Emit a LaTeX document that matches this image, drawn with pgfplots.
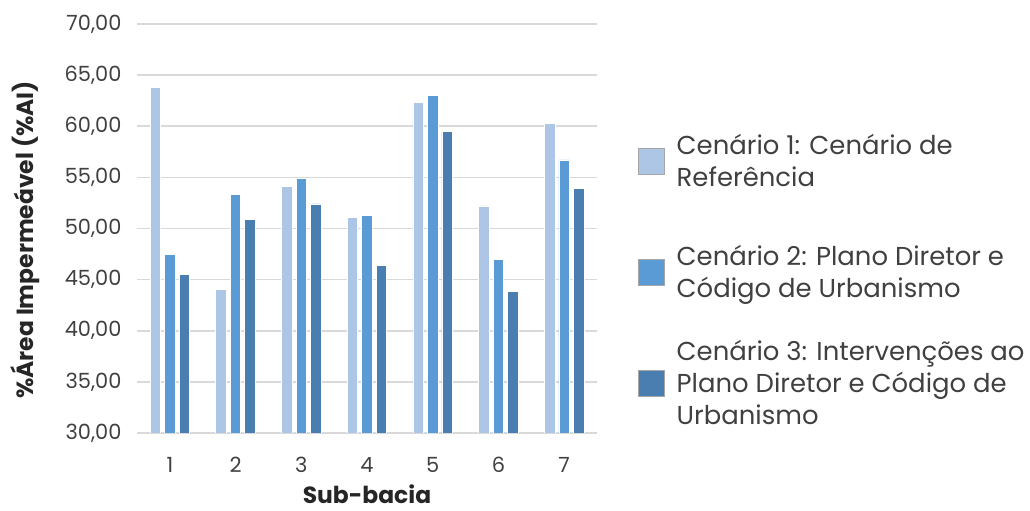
\documentclass[border=0pt]{standalone}
\usepackage{fontspec}
\setmainfont{Poppins}
\usepackage{pgfplots}
\pgfplotsset{compat=1.18}

\definecolor{cenA}{HTML}{ADC6E6}
\definecolor{cenB}{HTML}{5B9BD5}
\definecolor{cenC}{HTML}{4A7EB0}
\definecolor{gridgray}{HTML}{D9D9D9}
\definecolor{txtgray}{HTML}{404040}

\begin{document}
\begin{tikzpicture}[x=1bp,y=1bp]
\useasboundingbox (0,0) rectangle (1030,511);
\begin{axis}[
  at={(137bp,78bp)}, anchor=south west,
  scale only axis, width=460bp, height=409bp,
  ymin=30, ymax=70, ytick={30,35,...,70},
  xmin=0.5, xmax=7.5, xtick={1,...,7},
  ybar=4bp, bar width=10.5bp,
  axis line style={draw=none},
  major tick length=0pt,
  ymajorgrids, grid style={color=gridgray, line width=1.6bp},
  tick label style={font=\fontsize{21}{25}\selectfont, text=txtgray,
    /pgf/number format/assume math mode=true},
  yticklabel style={xshift=-12bp,
    /pgf/number format/fixed, /pgf/number format/fixed zerofill,
    /pgf/number format/precision=2, /pgf/number format/use comma},
  xticklabel style={yshift=-21bp},
  ylabel={\%Área Impermeável (\%AI)},
  ylabel style={font=\bfseries\fontsize{23.5}{28}\selectfont, text=black!85, at={(axis description cs:-0.2435,0.472)}, anchor=center},
  xlabel={Sub-bacia},
  xlabel style={font=\bfseries\fontsize{23.5}{28}\selectfont, text=black!85, inner sep=0pt, text depth=0pt, at={(axis description cs:0.5,-0.172)}, anchor=base},
  legend style={at={(axis description cs:1.089,0.394)}, anchor=west, draw=none, fill=none,
    inner sep=0pt, row sep=0pt, column sep=10bp,
    font=\fontsize{26}{32}\selectfont, text=txtgray,
    cells={align=left, anchor=west, minimum height=111bp}},
  legend image code/.code={\draw[#1, draw=black!35, line width=0.6bp] (0bp,-13bp) rectangle (26bp,13bp);},
]
\addplot[fill=cenA, draw=white, line width=0.8bp] coordinates {(1,63.8) (2,44.0) (3,54.1) (4,51.1) (5,62.3) (6,52.2) (7,60.3)};
\addlegendentry{Cenário 1: Cenário de\\Referência}
\addplot[fill=cenB, draw=white, line width=0.8bp] coordinates {(1,47.5) (2,53.3) (3,54.9) (4,51.3) (5,63.0) (6,47.0) (7,56.7)};
\addlegendentry{Cenário 2: Plano Diretor e\\Código de Urbanismo}
\addplot[fill=cenC, draw=white, line width=0.8bp] coordinates {(1,45.5) (2,50.9) (3,52.4) (4,46.4) (5,59.5) (6,43.8) (7,53.9)};
\addlegendentry{Cenário 3: Intervenções ao\\Plano Diretor e Código de\\Urbanismo}
\end{axis}
\end{tikzpicture}
\end{document}
